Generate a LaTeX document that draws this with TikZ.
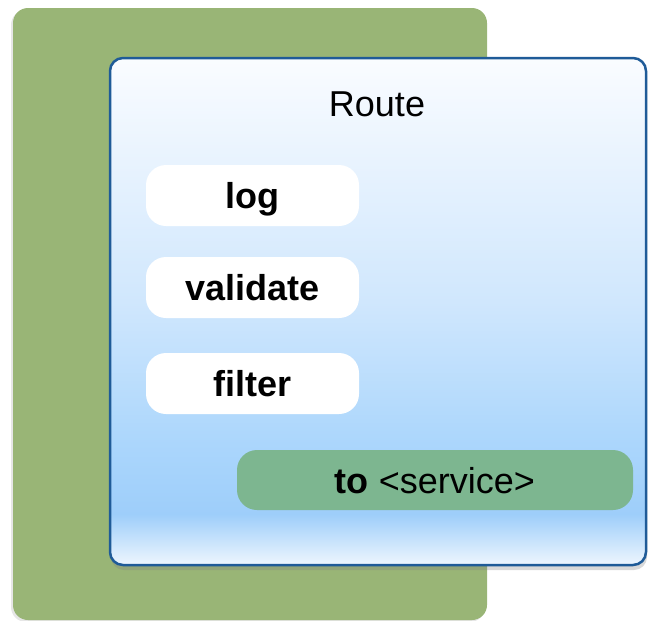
\documentclass[tikz,border=0pt]{standalone}
\usepackage{fontspec}
\setmainfont{Liberation Sans}
\usetikzlibrary{shadows}
\definecolor{groupgreen}{HTML}{99B576}
\definecolor{routeblue}{HTML}{1F5B98}
\definecolor{servicegreen}{HTML}{7DB690}
\definecolor{routetop}{HTML}{FAFCFF}
\definecolor{routemid}{HTML}{D0E7FD}
\definecolor{routelow}{HTML}{ABD6FC}
\definecolor{routedeep}{HTML}{9ECEFA}
\definecolor{routefoot}{HTML}{EEF6FE}
\pgfdeclareverticalshading{routeshade}{100bp}{color(0bp)=(routefoot); color(25bp)=(routefoot);
  color(30bp)=(routedeep); color(37bp)=(routelow); color(51bp)=(routemid); color(75bp)=(routetop); color(100bp)=(routetop)}
\tikzset{
  kgroup/.style={fill=groupgreen, rounded corners=15pt, minimum width=474pt, minimum height=612pt,
    drop shadow={shadow xshift=-2pt, shadow yshift=-2pt, opacity=0.2}},
  kroute/.style={draw=routeblue, line width=2.5pt, shading=routeshade, rounded corners=13pt,
    minimum width=536pt, minimum height=507pt, drop shadow={shadow xshift=1pt, shadow yshift=-5pt, opacity=0.3}},
  klabel/.style={font=\fontsize{36}{40}\selectfont, text height=26pt, text depth=0pt, inner sep=0pt},
  kstep/.style={klabel, fill=white, rounded corners=20pt, minimum width=213pt, minimum height=61pt,
    font=\fontsize{36}{40}\selectfont\bfseries},
  kservice/.style={klabel, fill=servicegreen, rounded corners=20pt, minimum width=396pt, minimum height=60pt},
}

\begin{document}
\begin{tikzpicture}[x=1pt, y=-1pt]
    \useasboundingbox (0,0) rectangle (648,621);
    \node[kgroup] (group) at (250,314) {};
    \node[kroute] (route) at (378,311.5) {};
    \node[klabel] (title) at (377,103) {Route};
    \node[kstep] (log) at (252.5,195.5) {log};
    \node[kstep] (validate) at (252.5,287.5) {validate};
    \node[kstep] (filter) at (252.5,383.5) {filter};
    \node[kservice] (service) at (435,480) {\textbf{to} <service>};
  \end{tikzpicture}
\end{document}
